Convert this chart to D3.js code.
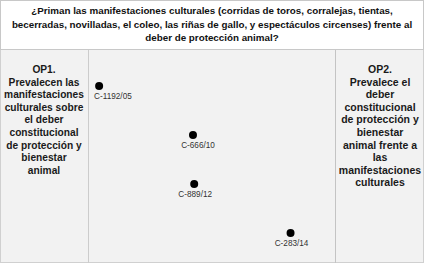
<!DOCTYPE html>
<html>
<head>
<meta charset="utf-8">
<script src="https://cdn.jsdelivr.net/npm/d3@7"></script>
<style>
  body { margin: 0; background: #fff; }
  svg { display: block; font-family: 'Liberation Sans', Arial, sans-serif; }
</style>
</head>
<body>
<svg id="chart" width="425" height="265"></svg>
<script>
// Data
let titleLines = [
  '¿Priman las manifestaciones culturales (corridas de toros, corralejas, tientas,',
  'becerradas, novilladas, el coleo, las riñas de gallo, y espectáculos circenses) frente al',
  'deber de protección animal?'
]
let leftLines = ['OP1.', 'Prevalecen las', 'manifestaciones', 'culturales sobre', 'el deber',
  'constitucional', 'de protección y', 'bienestar', 'animal']
let rightLines = ['OP2.', 'Prevalece el', 'deber', 'constitucional', 'de protección y',
  'bienestar', 'animal frente a', 'las', 'manifestaciones', 'culturales']
let cases = ['C-1192/05', 'C-666/10', 'C-889/12', 'C-283/14']
// position between OP1 (0) and OP2 (100)
let positions = [4.5, 42.5, 43, 82]

let svg = d3.select('#chart')

// frame
svg.append('rect').attr('x', 0.5).attr('y', 0.5).attr('width', 423).attr('height', 262)
  .attr('fill', '#f2f2f2').attr('stroke', '#d0d0d0')
svg.append('rect').attr('x', 0.5).attr('y', 0.5).attr('width', 423).attr('height', 49)
  .attr('fill', '#ffffff').attr('stroke', '#c8c8c8')

// column dividers
svg.append('line').attr('x1', 88.5).attr('x2', 88.5).attr('y1', 50).attr('y2', 263)
  .attr('stroke', '#cccccc')
svg.append('line').attr('x1', 335.5).attr('x2', 335.5).attr('y1', 50).attr('y2', 263)
  .attr('stroke', '#c4c4c4')

// shrink a whole block of lines to one font size so the widest line fits
function fitBlock(sel, maxW) {
  let fs = +sel.attr('font-size')
  let widest = d3.max(sel.nodes(), n => n.getComputedTextLength())
  if (widest > maxW) {
    sel.attr('font-size', Math.floor(fs * maxW / widest * 10) / 10)
  }
}

// title
let title = svg.selectAll('.title')
  .data(titleLines)
  .enter()
  .append('text')
  .attr('class', 'title')
  .attr('x', 212)
  .attr('y', (d, i) => 14 + i * 13.5)
  .attr('text-anchor', 'middle')
  .attr('font-size', 10.5)
  .attr('font-weight', 'bold')
  .attr('fill', '#111')
  .text(d => d)
fitBlock(title, 402)

// side labels
function sideText(lines, x, maxW) {
  let t = svg.append('g').selectAll('text')
    .data(lines)
    .enter()
    .append('text')
    .attr('x', x)
    .attr('y', (d, i) => 73 + i * 12.6)
    .attr('text-anchor', 'middle')
    .attr('font-size', 10.5)
    .attr('font-weight', 'bold')
    .attr('fill', '#1a1a1a')
    .text(d => d)
  fitBlock(t, maxW)
}
sideText(leftLines, 44, 80)
sideText(rightLines, 380, 84)

// scales
let xPositionScale = d3.scaleLinear().domain([0, 100]).range([88, 335])
let yPositionScale = d3.scalePoint().domain(cases).range([86, 233])

let points = svg.append('g')
  .selectAll('g')
  .data(cases)
  .enter()
  .append('g')
  .attr('transform', (d, i) => 'translate(' + xPositionScale(positions[i]) + ',' + yPositionScale(d) + ')')

points.append('circle')
  .attr('r', 4)
  .attr('fill', '#000')

// first label sits to the right of its dot, the rest are centred under it
points.append('text')
  .attr('x', (d, i) => (i === 0 ? -5 : i === 1 ? 5 : 1))
  .attr('y', 13)
  .attr('text-anchor', (d, i) => (i === 0 ? 'start' : 'middle'))
  .attr('font-size', 8.2)
  .attr('fill', '#333')
  .text(d => d)
</script>
</body>
</html>
